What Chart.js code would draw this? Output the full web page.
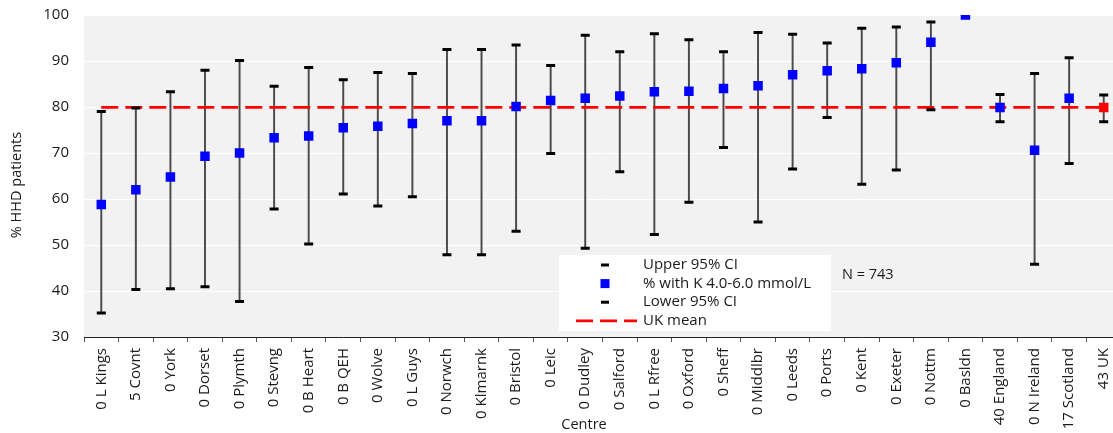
<!DOCTYPE html>
<html>
<head>
<meta charset="utf-8">
<script src="https://cdn.jsdelivr.net/npm/chart.js@4.4.1/dist/chart.umd.min.js"></script>
<style>
  html, body { margin: 0; padding: 0; background: #ffffff; overflow: hidden; }
  #wrap { width: 1113px; height: 433px; position: relative; overflow: hidden; }
  #chart { display: block; }
</style>
</head>
<body>
<div id="wrap"><canvas id="chart" width="1121" height="433"></canvas></div>
<script>
// Centres, ordered by percentage of patients in range
const centres = ['0 L Kings', '5 Covnt', '0 York', '0 Dorset', '0 Plymth', '0 Stevng', '0 B Heart',
  '0 B QEH', '0 Wolve', '0 L Guys', '0 Norwch', '0 Klmarnk', '0 Bristol', '0 Leic', '0 Dudley',
  '0 Salford', '0 L Rfree', '0 Oxford', '0 Sheff', '0 Middlbr', '0 Leeds', '0 Ports', '0 Kent',
  '0 Exeter', '0 Nottm', '0 Basldn', '40 England', '0 N Ireland', '17 Scotland', '43 UK'];

// % of HHD patients with K 4.0-6.0 mmol/L
const pctInRange = [58.8, 62.0, 64.8, 69.3, 70.0, 73.3, 73.7, 75.5, 75.8, 76.4, 77.0, 77.0, 80.1, 81.4, 81.9,
  82.4, 83.3, 83.4, 84.0, 84.6, 87.0, 87.9, 88.3, 89.6, 94.1, 100.0, 79.9, 70.6, 81.9, 79.9];

// 95% confidence limits
const upperCI = [79.0, 79.8, 83.3, 88.0, 90.1, 84.5, 88.6, 85.9, 87.5, 87.3, 92.5, 92.5, 93.5, 89.0, 95.6,
  92.0, 95.9, 94.6, 92.0, 96.2, 95.8, 93.9, 97.1, 97.4, 98.5, 100.0, 82.7, 87.3, 90.7, 82.6];
const lowerCI = [35.2, 40.3, 40.5, 40.9, 37.7, 57.8, 50.2, 61.1, 58.5, 60.5, 47.9, 47.9, 53.0, 69.9, 49.3,
  65.9, 52.3, 59.3, 71.2, 55.0, 66.5, 77.7, 63.2, 66.3, 79.4, 100.0, 76.8, 45.8, 67.7, 76.8];

const ukMean = 79.9;
const yTicks = [30, 40, 50, 60, 70, 80, 90, 100];
const ukCentre = '43 UK';
const sampleNote = 'N = 743';
const xTitle = 'Centre';
const yTitle = '% HHD patients';

const FONT = "'Open Sans', 'DejaVu Sans', sans-serif";
const TEXT = '#1a1a1a';
const BLUE = '#0000ff';
const RED = '#ff0000';
const MEAN_DASH = [17, 7];

Chart.defaults.font.family = FONT;
Chart.defaults.color = TEXT;

// Plot background behind the chart area
const plotBackground = {
  id: 'plotBackground',
  beforeDraw(chart) {
    const { ctx, chartArea: a } = chart;
    ctx.save();
    ctx.fillStyle = '#f2f2f2';
    ctx.fillRect(a.left, a.top, a.right - a.left, a.bottom - a.top);
    ctx.restore();
  }
};

// Axis titles, sample size note and the boxed legend
const annotations = {
  id: 'annotations',
  afterDraw(chart) {
    const { ctx } = chart;
    ctx.save();
    ctx.fillStyle = TEXT;
    ctx.textBaseline = 'middle';
    ctx.textAlign = 'center';

    ctx.font = '14.5px ' + FONT;
    ctx.fillText(xTitle, 584, 425);

    ctx.save();
    ctx.translate(17, 185);
    ctx.rotate(-Math.PI / 2);
    ctx.fillText(yTitle, 0, 0);
    ctx.restore();

    ctx.textAlign = 'left';
    ctx.font = '14.5px ' + FONT;
    ctx.fillText(sampleNote, 842, 275);

    // legend box
    const box = { x: 559, y: 255, w: 272, h: 76 };
    ctx.fillStyle = '#ffffff';
    ctx.fillRect(box.x, box.y, box.w, box.h);

    const items = chart.data.datasets.filter(d => d.inLegend);
    const markX = 605, textX = 643, row0 = 265, rowStep = 18.6;
    ctx.font = '15px ' + FONT;
    items.forEach((d, i) => {
      const y = row0 + i * rowStep;
      if (d.legendKind === 'cap') {
        ctx.fillStyle = '#000';
        ctx.fillRect(markX - 4, y - 1.5, 8, 3);
      } else if (d.legendKind === 'square') {
        ctx.fillStyle = BLUE;
        ctx.fillRect(markX - 4.5, y - 4.5, 9, 9);
      } else {
        ctx.strokeStyle = RED;
        ctx.lineWidth = 2.75;
        ctx.setLineDash(MEAN_DASH);
        ctx.beginPath();
        ctx.moveTo(576, y);
        ctx.lineTo(637, y);
        ctx.stroke();
        ctx.setLineDash([]);
      }
      ctx.fillStyle = TEXT;
      ctx.fillText(d.label, textX, y);
    });
    ctx.restore();
  }
};

const capPoint = {
  type: 'line',
  showLine: false,
  pointStyle: 'line',
  pointRadius: 4.5,
  pointBorderWidth: 3,
  pointBorderColor: '#000',
  borderColor: '#000',
  order: 2,
  inLegend: true,
  legendKind: 'cap'
};

new Chart(document.getElementById('chart'), {
  type: 'line',
  data: {
    labels: centres,
    datasets: [
      {
        type: 'bar',
        label: '95% CI',
        data: lowerCI.map((lo, i) => [lo, upperCI[i]]),
        backgroundColor: '#4a4a4a',
        barThickness: 1.3,
        order: 4
      },
      Object.assign({}, capPoint, { label: 'Upper 95% CI', data: upperCI }),
      {
        type: 'line',
        label: '% with K 4.0-6.0 mmol/L',
        data: pctInRange,
        showLine: false,
        pointStyle: 'rect',
        pointRadius: 6.7,
        pointBorderWidth: 0,
        pointBackgroundColor: centres.map(c => c === ukCentre ? RED : BLUE),
        pointBorderColor: centres.map(c => c === ukCentre ? RED : BLUE),
        order: 1,
        inLegend: true,
        legendKind: 'square'
      },
      Object.assign({}, capPoint, { label: 'Lower 95% CI', data: lowerCI }),
      {
        type: 'line',
        label: 'UK mean',
        data: centres.map(() => ukMean),
        borderColor: RED,
        borderWidth: 2.75,
        borderDash: MEAN_DASH,
        pointRadius: 0,
        fill: false,
        order: 3,
        inLegend: true,
        legendKind: 'dash'
      }
    ]
  },
  options: {
    responsive: false,
    animation: false,
    events: [],
    devicePixelRatio: 1,
    layout: { autoPadding: false, padding: { top: 15, right: 0, left: 0, bottom: 0 } },
    plugins: {
      legend: { display: false },
      tooltip: { enabled: false }
    },
    scales: {
      x: {
        type: 'category',
        offset: true,
        grid: { offset: true, drawOnChartArea: false, drawTicks: true, tickLength: 5, color: '#595959', lineWidth: 1 },
        border: { display: true, color: '#262626', width: 1 },
        ticks: { autoSkip: false, minRotation: 90, maxRotation: 90, padding: 6, color: TEXT, font: { size: 15 } },
        afterFit(scale) {
          scale.height = 96;
          scale.paddingLeft = 0;
          scale.paddingRight = 0;
        }
      },
      y: {
        min: 30,
        max: 100,
        grid: { color: '#ffffff', lineWidth: 1, drawTicks: false },
        border: { display: false },
        ticks: { padding: 15, color: TEXT, font: { size: 15 } },
        afterBuildTicks(scale) { scale.ticks = yTicks.map(v => ({ value: v })); },
        afterFit(scale) {
          scale.width = 84;
          scale.paddingTop = 0;
          scale.paddingBottom = 0;
        }
      }
    }
  },
  plugins: [plotBackground, annotations]
});
</script>
</body>
</html>
